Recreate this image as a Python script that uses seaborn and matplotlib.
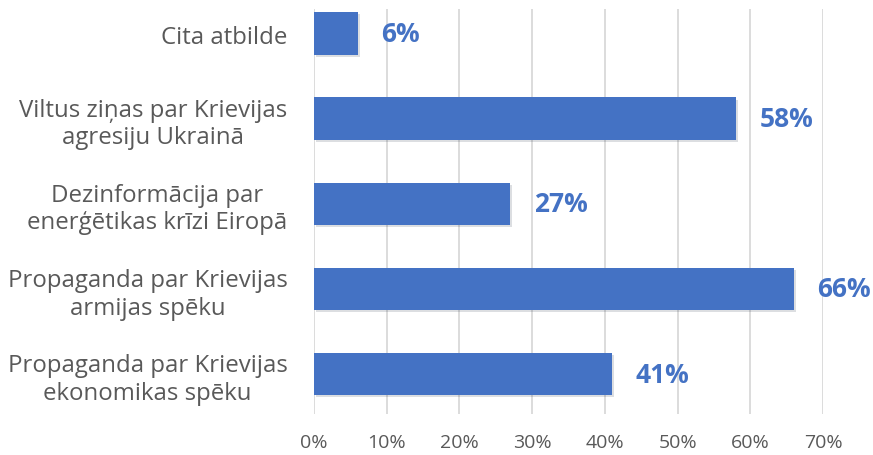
#!/usr/bin/env python3
"""
Horizontal bar chart: survey answers on disinformation topics (Latvian).
"""

import matplotlib
matplotlib.use("Agg")
import matplotlib.pyplot as plt
import matplotlib.patheffects as pe
from matplotlib.ticker import PercentFormatter
import seaborn as sns
import pandas as pd

# Data
categories = [
    "Cita atbilde",
    "Viltus ziņas par Krievijas\nagresiju Ukrainā",
    "Dezinformācija par\nenerģētikas krīzi Eiropā",
    "Propaganda par Krievijas\narmijas spēku",
    "Propaganda par Krievijas\nekonomikas spēku",
]
shares = [6, 58, 27, 66, 41]
x_ticks = [0, 10, 20, 30, 40, 50, 60, 70]

BAR_COLOR = "#4472C4"
TEXT_COLOR = "#595959"
GRID_COLOR = "#D9D9D9"

sns.set_theme(style="white")
plt.rcParams["font.family"] = ["Open Sans", "DejaVu Sans"]


def main():
    df = pd.DataFrame({"category": categories, "share": shares})

    fig = plt.figure(figsize=(8.73, 4.56), dpi=100)
    ax = fig.add_axes([314 / 873, 1 - 415 / 456, (823 - 314) / 873, (415 - 10) / 456])

    sns.barplot(data=df, x="share", y="category", orient="h",
                color=BAR_COLOR, saturation=1, width=0.5, linewidth=0,
                ax=ax, zorder=3)

    # subtle drop shadow like the office chart
    for bar in ax.patches:
        bar.set_path_effects([pe.SimplePatchShadow(offset=(1.5, -1.5), alpha=0.15),
                              pe.Normal()])

    ax.bar_label(ax.containers[0], labels=[f"{v}%" for v in shares],
                 padding=17, color=BAR_COLOR, fontsize=19, fontweight="bold")

    ax.set_xlim(0, 70)
    ax.set_ylim(4.47, -0.29)
    ax.set_xticks(x_ticks)
    ax.xaxis.set_major_formatter(PercentFormatter(decimals=0))
    ax.grid(True, axis="x", color=GRID_COLOR, linewidth=1.3, zorder=0)
    ax.grid(False, axis="y")

    ax.set_xlabel("")
    ax.set_ylabel("")
    sns.despine(ax=ax, left=True, bottom=True)

    ax.tick_params(axis="x", length=0, pad=14, labelsize=14, labelcolor=TEXT_COLOR)
    ax.tick_params(axis="y", length=0, pad=19, labelsize=17.3, labelcolor=TEXT_COLOR)
    plt.setp(ax.get_yticklabels(), multialignment="center", linespacing=1.2)

    fig.savefig("out.png", dpi=100)


if __name__ == "__main__":
    main()
